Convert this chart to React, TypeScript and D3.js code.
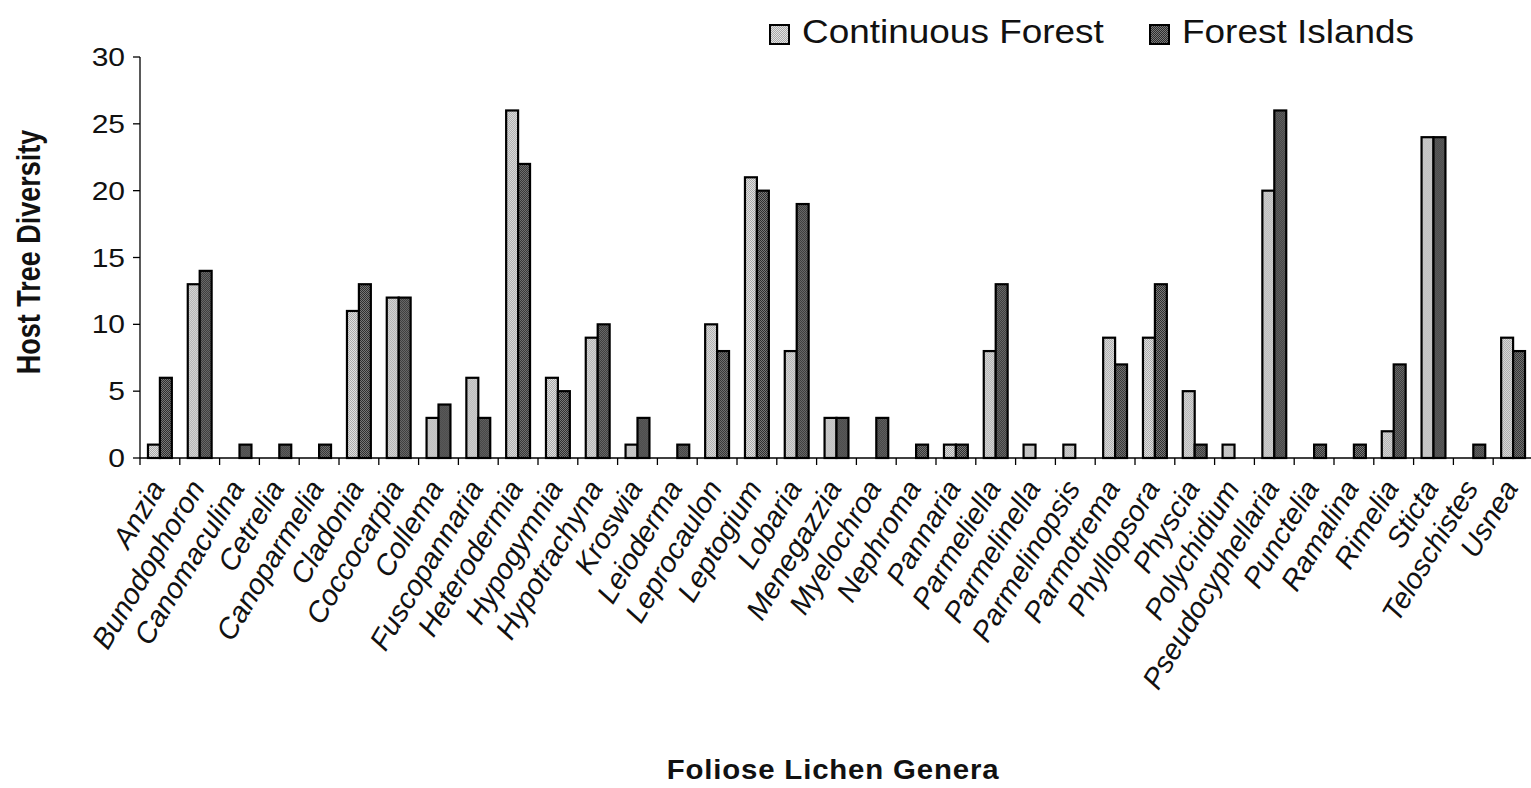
import React from 'react';
import * as d3 from 'd3';

const genera = [
  'Anzia', 'Bunodophoron', 'Canomaculina', 'Cetrelia', 'Canoparmelia', 'Cladonia',
  'Coccocarpia', 'Collema', 'Fuscopannaria', 'Heterodermia', 'Hypogymnia', 'Hypotrachyna',
  'Kroswia', 'Leioderma', 'Leprocaulon', 'Leptogium', 'Lobaria', 'Menegazzia',
  'Myelochroa', 'Nephroma', 'Pannaria', 'Parmeliella', 'Parmelinella', 'Parmelinopsis',
  'Parmotrema', 'Phyllopsora', 'Physcia', 'Polychidium', 'Pseudocyphellaria', 'Punctelia',
  'Ramalina', 'Rimelia', 'Sticta', 'Teloschistes', 'Usnea',
];
const continuousForest = [1, 13, 0, 0, 0, 11, 12, 3, 6, 26, 6, 9, 1, 0, 10, 21, 8, 3, 0, 0, 1, 8, 1, 1, 9, 9, 5, 1, 20, 0, 0, 2, 24, 0, 9];
const forestIslands = [6, 14, 1, 1, 1, 13, 12, 4, 3, 22, 5, 10, 3, 1, 8, 20, 19, 3, 3, 1, 1, 13, 0, 0, 7, 13, 1, 0, 26, 1, 1, 7, 24, 1, 8];
const seriesNames = ['Continuous Forest', 'Forest Islands'];
const yTicks = [0, 5, 10, 15, 20, 25, 30];

const FONT = "'Liberation Sans', Arial, Helvetica, sans-serif";

export default function App() {
  const W = 1531;
  const H = 788;
  const x0 = d3.scaleBand<string>().domain(genera).range([140, 1533]).paddingInner(0.4).paddingOuter(0.2);
  const x1 = d3.scaleBand<string>().domain(seriesNames).range([0, x0.bandwidth()]);
  const y = d3.scaleLinear().domain([0, 30]).range([458, 57]);
  const step = x0.step();
  const left = x0.range()[0];
  const boundaries = d3.range(genera.length + 1).map((i) => left + i * step);
  const series = [continuousForest, forestIslands];
  const fills = ['url(#patCF)', 'url(#patFI)'];

  return (
    <svg width={W} height={H} style={{ position: 'absolute', left: 0, top: 0, background: '#fff' }} fontFamily={FONT}>
      <defs>
        <pattern id="patCF" width="2" height="2" patternUnits="userSpaceOnUse">
          <rect width="2" height="2" fill="#e2e2e2" />
          <rect x="1" y="0" width="1" height="1" fill="#a8a8a8" />
          <rect x="0" y="1" width="1" height="1" fill="#a8a8a8" />
        </pattern>
        <pattern id="patFI" width="2" height="2" patternUnits="userSpaceOnUse">
          <rect width="2" height="2" fill="#7a7a7a" />
          <rect x="1" y="0" width="1" height="1" fill="#2c2c2c" />
          <rect x="0" y="1" width="1" height="1" fill="#2c2c2c" />
        </pattern>
      </defs>
      <rect width={W} height={H} fill="#fff" />

      {/* bars */}
      {genera.map((g, i) => (
        <g key={g} transform={`translate(${x0(g)},0)`}>
          {series.map((s, k) =>
            s[i] > 0 ? (
              <rect
                key={k}
                x={x1(seriesNames[k])}
                y={y(s[i])}
                width={x1.bandwidth()}
                height={y(0) - y(s[i])}
                fill={fills[k]}
                stroke="#000"
                strokeWidth={2.2}
              />
            ) : null
          )}
        </g>
      ))}

      {/* y axis */}
      <line x1={left} x2={left} y1={y(30)} y2={y(0)} stroke="#000" strokeWidth={1.3} />
      {yTicks.map((t) => (
        <g key={t}>
          <line x1={left - 7} x2={left} y1={y(t)} y2={y(t)} stroke="#000" strokeWidth={1.3} />
          <text
            transform={`translate(125,${y(t) + 9}) scale(1.2,1)`}
            textAnchor="end"
            fontSize={25}
            fill="#111"
          >
            {t}
          </text>
        </g>
      ))}

      {/* x axis */}
      <line x1={left} x2={W} y1={y(0)} y2={y(0)} stroke="#000" strokeWidth={1.3} />
      {boundaries.map((b, i) => (
        <line key={i} x1={b} x2={b} y1={y(0)} y2={y(0) + 7} stroke="#000" strokeWidth={1.3} />
      ))}
      {genera.map((g) => (
        <text
          key={g}
          transform={`translate(${(x0(g) as number) + x0.bandwidth() / 2 + 6},488) rotate(-59)`}
          textAnchor="end"
          fontSize={29}
          fontStyle="italic"
          fill="#111"
        >
          {g}
        </text>
      ))}

      {/* axis titles */}
      <text
        transform="translate(40,252) scale(1.2,1) rotate(-90)"
        textAnchor="middle"
        fontSize={27}
        fontWeight="bold"
        fill="#111"
      >
        Host Tree Diversity
      </text>
      <text
        transform="translate(833,779) scale(1.05,1)"
        textAnchor="middle"
        fontSize={28}
        fontWeight="bold"
        letterSpacing={0.8}
        fill="#111"
      >
        Foliose Lichen Genera
      </text>

      {/* legend */}
      {seriesNames.map((n, k) => {
        const lx = k === 0 ? 770 : 1150;
        return (
          <g key={n}>
            <rect x={lx} y={25} width={19} height={19} fill={fills[k]} stroke="#000" strokeWidth={2} />
            <text transform={`translate(${lx + 32},43) scale(1.12,1)`} fontSize={33} fill="#111">
              {n}
            </text>
          </g>
        );
      })}
    </svg>
  );
}
